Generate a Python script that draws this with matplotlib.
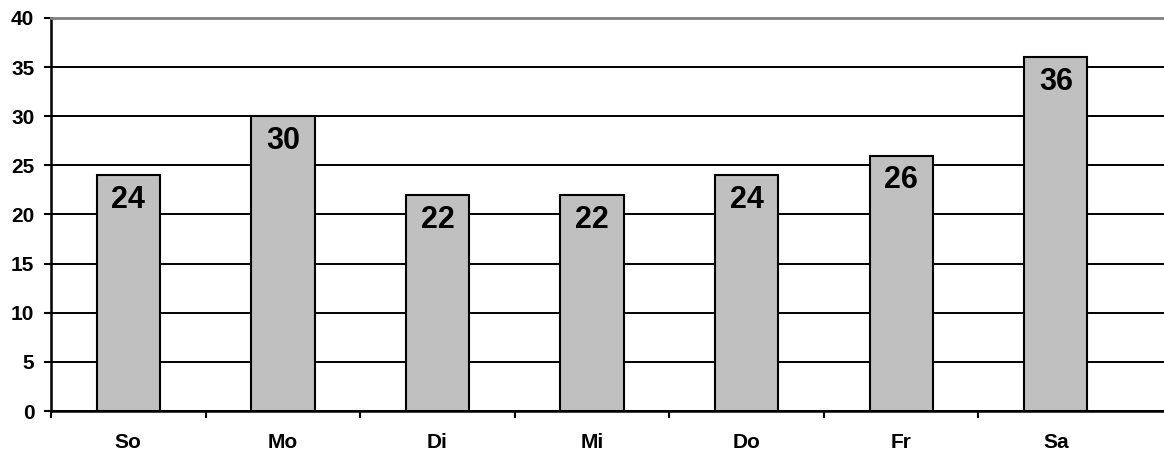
import matplotlib.pyplot as plt
import numpy as np

plt.rcParams['font.family'] = ['Liberation Sans', 'DejaVu Sans']

# Tage und Werte
tage = ['So', 'Mo', 'Di', 'Mi', 'Do', 'Fr', 'Sa']
werte = [24, 30, 22, 22, 24, 26, 36]
y_ticks = [0, 5, 10, 15, 20, 25, 30, 35, 40]

fig = plt.figure(figsize=(11.64, 4.53), dpi=100)
ax = fig.add_axes([0.0438, 0.0927, 0.9562, 0.8676])

x = np.arange(len(tage))
bars = ax.bar(x, werte, width=0.41, color='#C0C0C0', edgecolor='black',
              linewidth=1.5, zorder=3)

# Werte oben in den Balken
for xi, v in zip(x, werte):
    ax.annotate(str(v), (xi, v), xytext=(0, -7), textcoords='offset points',
                ha='center', va='top', fontsize=22, fontweight='bold', zorder=4)

ax.set_xlim(-0.5, 6.7)
ax.set_ylim(0, 40)
ax.set_yticks(y_ticks)
ax.set_yticklabels([str(t) for t in y_ticks], fontsize=15, fontweight='bold')

ax.set_xticks(x)
ax.set_xticklabels(tage, fontsize=15, fontweight='bold')
ax.set_xticks(np.arange(-0.5, 6, 1.0), minor=True)
ax.tick_params(axis='x', which='major', length=0, pad=16)
ax.tick_params(axis='x', which='minor', length=5, width=1.5, direction='out')
ax.tick_params(axis='y', length=5, width=1.5, pad=7)

ax.yaxis.grid(True, color='black', linewidth=1.4)
ax.set_axisbelow(True)

ax.spines['right'].set_visible(False)
ax.spines['top'].set_color('#808080')
ax.spines['top'].set_linewidth(2)
ax.spines['left'].set_linewidth(1.8)
ax.spines['bottom'].set_linewidth(1.8)

fig.savefig('out.png', dpi=100)
